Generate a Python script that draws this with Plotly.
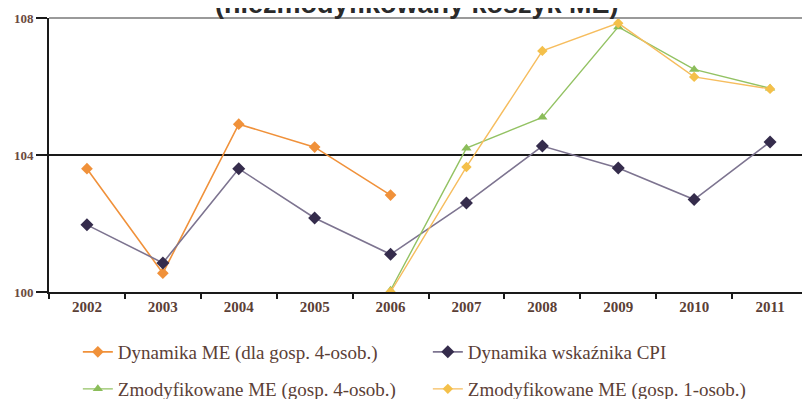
import plotly.graph_objects as go

years = ["2002", "2003", "2004", "2005", "2006", "2007", "2008", "2009", "2010", "2011"]
me_4os = [103.6, 100.55, 104.9, 104.23, 102.83, None, None, None, None, None]
cpi = [101.96, 100.85, 103.6, 102.16, 101.1, 102.6, 104.26, 103.62, 102.7, 104.38]
mod_4os = [None, None, None, None, 100.05, 104.2, 105.1, 107.74, 106.5, 105.95]
mod_1os = [None, None, None, None, 100.0, 103.65, 107.04, 107.85, 106.28, 105.93]
yticks = [100, 104, 108]
title_text = "(niezmodyfikowany koszyk ME)"

TXT = "#5b4036"
fig = go.Figure()
fig.add_trace(go.Scatter(x=years, y=me_4os, name="Dynamika ME (dla gosp. 4-osob.)", mode="lines+markers",
                         line=dict(color="#f0913a", width=1.6), marker=dict(symbol="diamond", size=9, color="#f0913a"),
                         legend="legend"))
fig.add_trace(go.Scatter(x=years, y=cpi, name="Dynamika wskaźnika CPI", mode="lines+markers",
                         line=dict(color="#7d7490", width=1.6), marker=dict(symbol="diamond", size=10, color="#352c4c"),
                         legend="legend"))
fig.add_trace(go.Scatter(x=years, y=mod_4os, name="Zmodyfikowane ME (gosp. 4-osob.)", mode="lines+markers",
                         line=dict(color="#93c263", width=1.4), marker=dict(symbol="triangle-up", size=9, color="#8bbd5a"),
                         legend="legend2"))
fig.add_trace(go.Scatter(x=years, y=mod_1os, name="Zmodyfikowane ME (gosp. 1-osob.)", mode="lines+markers",
                         line=dict(color="#f6bd5e", width=1.4), marker=dict(symbol="diamond", size=8, color="#f4c04a"),
                         legend="legend2"))

legfont = dict(family="Liberation Serif", size=19, color=TXT)
fig.update_layout(
    width=802, height=391,
    margin=dict(l=41, r=2, t=10, b=107, autoexpand=False),
    paper_bgcolor="white", plot_bgcolor="white",
    showlegend=True,
    legend=dict(orientation="h", x=0.038, xanchor="left", y=-0.219, yanchor="middle",
                entrywidth=305, entrywidthmode="pixels", font=legfont, bgcolor="rgba(0,0,0,0)"),
    legend2=dict(orientation="h", x=0.038, xanchor="left", y=-0.354, yanchor="middle",
                 entrywidth=305, entrywidthmode="pixels", font=legfont, bgcolor="rgba(0,0,0,0)"),
    xaxis=dict(type="category", showgrid=False, showline=True, linecolor="#1a1a1a", linewidth=2,
               ticks="outside", ticklen=5, tickcolor="#1a1a1a", tickwidth=1.5, tickson="boundaries",
               tickfont=dict(family="Liberation Serif", size=15, color=TXT, weight="bold"),
               range=[-0.5, 9.5], zeroline=False),
    yaxis=dict(range=[100, 108], tickvals=yticks, showgrid=True, gridcolor="#1a1a1a", gridwidth=2,
               showline=True, linecolor="#1a1a1a", linewidth=2, ticks="outside", ticklen=11,
               tickcolor="#1a1a1a", tickwidth=1.5,
               tickfont=dict(family="Liberation Serif", size=13, color="#6b4a40", weight="bold"),
               zeroline=False),
    shapes=[dict(type="path", xref="paper", yref="paper", path="M 0 1 L 1 1 L 1 0",
                 line=dict(color="#9a9a9a", width=2), layer="above")],
    annotations=[dict(text=title_text, xref="paper", yref="paper", x=0.485, y=0.99,
                      xanchor="center", yanchor="bottom", showarrow=False,
                      font=dict(family="Liberation Sans", size=27, color="#2a2a2a", weight="bold"))],
)

fig.write_html("out.html")
